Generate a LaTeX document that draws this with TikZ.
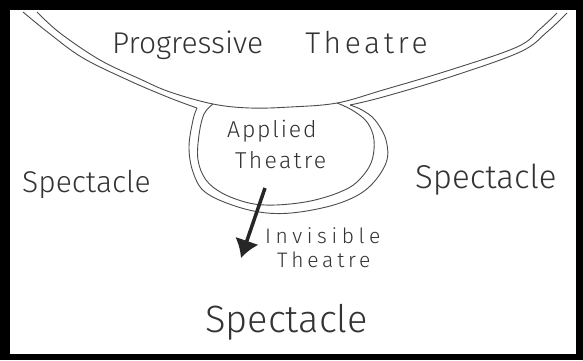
\documentclass[tikz,border=0pt]{standalone}
\usepackage{fontspec}
\setmainfont{Fira Sans}[UprightFont={* Light}]
\usetikzlibrary{arrows.meta}

\begin{document}
\begin{tikzpicture}[x=1pt, y=-1pt]
	\tikzset{arrow/.style={draw, -{Latex[length=18pt, width=25pt]}}}
	\tikzstyle{band}=[draw=black!70, line width=0.9pt]
	\tikzstyle{hand}=[text=black!80, inner sep=0pt, anchor=base west]
	\newcommand\HandSize[1]{\fontsize{#1}{#1}\selectfont}
	\newcommand\Spread[1]{\addfontfeature{LetterSpace=#1}}

	\useasboundingbox (0,0) rectangle (583,360);
	% frame
	\fill [black] (0,0) rectangle (583,360);
	\fill [white] (10,10) rectangle (576,354);

	% upper edge of the band, right across the top of the bulb
	\draw [band] plot [smooth, tension=0.6] coordinates {(37,12) (60,33) (100,60) (140,79) (170,92) (213,104) (250,108) (290,107) (337,103) (383,90) (450,70) (517,47) (540,29) (557,13)};

	% lower edge, round the outside of the bulb
	\draw [band] plot [smooth, tension=0.6] coordinates {(23,12) (50,34) (83,58) (130,81) (170,98) (197,108)};
	\draw [band] plot [smooth, tension=0.6] coordinates {(197,108) (193,120) (189,147) (193,172) (205,192) (235,206) (267,213) (300,212) (340,203) (368,188) (386,163) (386,140) (375,120) (362,110) (350,105)};
	\draw [band] plot [smooth, tension=0.6] coordinates {(350,105) (383,97) (450,77) (520,52) (547,32) (567,13)};

	% inside of the bulb
	\draw [band] plot [smooth, tension=0.6] coordinates {(213,104) (204,114) (199,135) (198,160) (206,180) (222,193) (245,202) (265,205) (290,204) (315,200) (340,192) (357,182) (371,163) (374,140) (367,122) (352,110) (337,103)};

	% labels
	\node [hand, font=\HandSize{30}] (prog) at (112,53) {Progressive\hspace{42pt}{\Spread{12}Theatre}};
	\node [hand, font=\HandSize{23}\Spread{8}] (appl) at (227,137) {Applied};
	\node [hand, font=\HandSize{23}\Spread{10}] (applb) at (235,168) {Theatre};
	\node [hand, font=\HandSize{30}] (specL) at (22,192) {Spectacle};
	\node [hand, font=\HandSize{33}] (specR) at (415,188) {Spectacle};
	\node [hand, font=\HandSize{21}\Spread{22}] (invis) at (265,243) {Invisible};
	\node [hand, font=\HandSize{21}\Spread{18}] (invisb) at (277,267) {Theatre};
	\node [hand, font=\HandSize{38}] (specB) at (205,332) {Spectacle};

	% Path Arrow
	\coordinate (tail) at (265,188);
	\coordinate (tip) at (241,258);
	\draw [arrow, line width=3.5pt, draw=black!85, fill=black!85] (tail) -- (tip);

\end{tikzpicture}
\end{document}
